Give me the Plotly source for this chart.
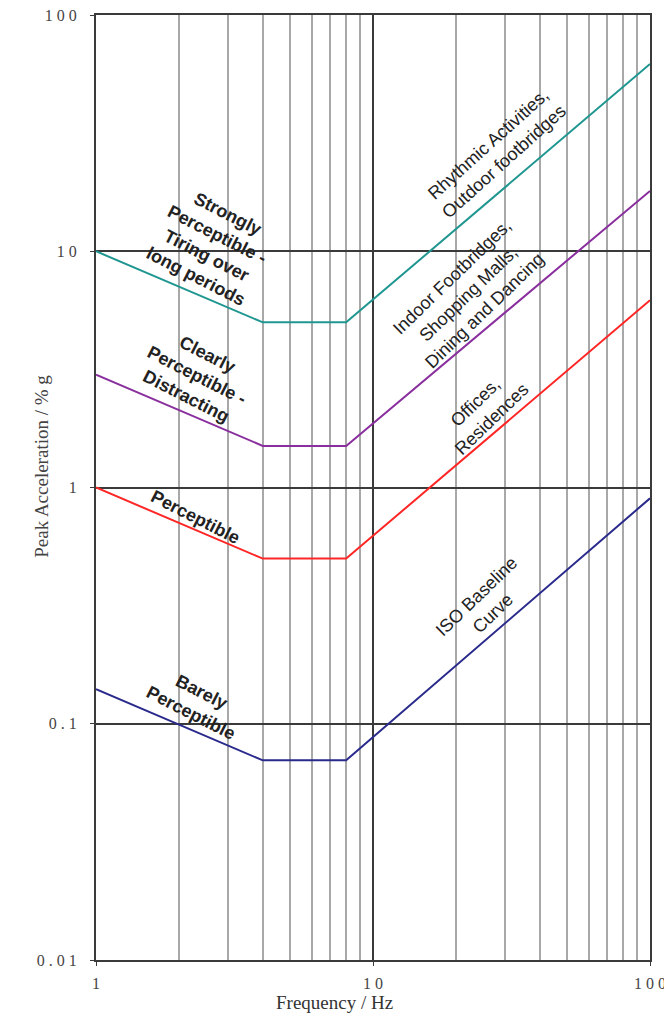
import plotly.graph_objects as go

# ---- data ----
freq = [1, 4, 8, 100]
strongly = [10, 5, 5, 62]
clearly = [3, 1.5, 1.5, 18]
perceptible = [1, 0.5, 0.5, 6.2]
iso_baseline = [0.14, 0.07, 0.07, 0.9]

series_names = ["Strongly perceptible", "Clearly perceptible", "Perceptible", "ISO baseline"]
series_values = [strongly, clearly, perceptible, iso_baseline]
series_colors = ["#1f9690", "#8a2f9e", "#ff2626", "#2a2a8c"]

x_tickvals = [1, 10, 100]
x_ticktext = ["1", "1 0", "1 0 0"]
x_minor = [2, 3, 4, 5, 6, 7, 8, 9, 20, 30, 40, 50, 60, 70, 80, 90]
y_tickvals = [0.01, 0.1, 1, 10, 100]
y_ticktext = ["0 . 0 1", "0 . 1", "1", "1 0", "1 0 0"]

labels = [
    ("Strongly<br>Perceptible -<br>Tiring over<br>long periods", 0.209, 0.757, 27, True),
    ("Clearly<br>Perceptible -<br>Distracting", 0.182, 0.619, 27, True),
    ("Perceptible", 0.179, 0.469, 27, True),
    ("Barely<br>Perceptible", 0.182, 0.273, 27, True),
    ("Rhythmic Activities,<br>Outdoor footbridges", 0.722, 0.855, -42, False),
    ("Indoor Footbridges,<br>Shopping Malls,<br>Dining and Dancing", 0.673, 0.705, -44, False),
    ("Offices,<br>Residences", 0.699, 0.582, -44, False),
    ("ISO Baseline<br>Curve", 0.702, 0.376, -44, False),
]

fig = go.Figure()
for name, vals, col in zip(series_names, series_values, series_colors):
    fig.add_trace(go.Scatter(x=freq, y=vals, mode="lines", name=name,
                             line=dict(color=col, width=2)))

for txt, xp, yp, ang, bold in labels:
    if bold:
        txt = "<b>" + txt.replace("<br>", "</b><br><b>") + "</b>"
    fig.add_annotation(text=txt,
                       x=xp, y=yp, xref="paper", yref="paper",
                       xanchor="center", yanchor="middle",
                       showarrow=False, textangle=ang, align="center",
                       font=dict(family="Liberation Sans", size=18, color="#222222"))

fig.add_annotation(text="Frequency / Hz", x=0.43, y=-0.0455, xref="paper", yref="paper",
                   showarrow=False, xanchor="center", yanchor="middle",
                   font=dict(family="Liberation Serif", size=19, color="#333"))
fig.add_annotation(text="Peak Acceleration / % g", x=-0.0975, y=0.523, xref="paper", yref="paper",
                   showarrow=False, xanchor="center", yanchor="middle", textangle=-90,
                   font=dict(family="Liberation Serif", size=19, color="#444"))

fig.update_xaxes(type="log", range=[0, 2], tickvals=x_tickvals, ticktext=x_ticktext,
                 automargin=False, ticklabeloverflow="allow",
                 showgrid=True, gridcolor="#3a3a3a", gridwidth=1.5,
                 showline=True, linecolor="#3a3a3a", linewidth=2, mirror=True,
                 ticks="outside", ticklen=4, tickcolor="#3a3a3a",
                 ticklabelstandoff=4,
                 tickfont=dict(family="Liberation Serif", size=16, color="#444"),
                 minor=dict(tickvals=x_minor, showgrid=True, gridcolor="#a8a8a8",
                            gridwidth=2, ticks=""),
                 zeroline=False)
fig.update_yaxes(type="log", range=[-2, 2], tickvals=y_tickvals, ticktext=y_ticktext,
                 automargin=False, ticklabeloverflow="allow",
                 showgrid=True, gridcolor="#3a3a3a", gridwidth=1.5,
                 showline=True, linecolor="#3a3a3a", linewidth=2, mirror=True,
                 ticks="outside", ticklen=4, tickcolor="#3a3a3a",
                 ticklabelstandoff=10,
                 tickfont=dict(family="Liberation Serif", size=16, color="#444"),
                 zeroline=False)

fig.update_layout(width=664, height=1005, showlegend=False,
                  margin=dict(l=88, r=22, t=7, b=53),
                  plot_bgcolor="white", paper_bgcolor="white")

fig.write_html("out.html")
